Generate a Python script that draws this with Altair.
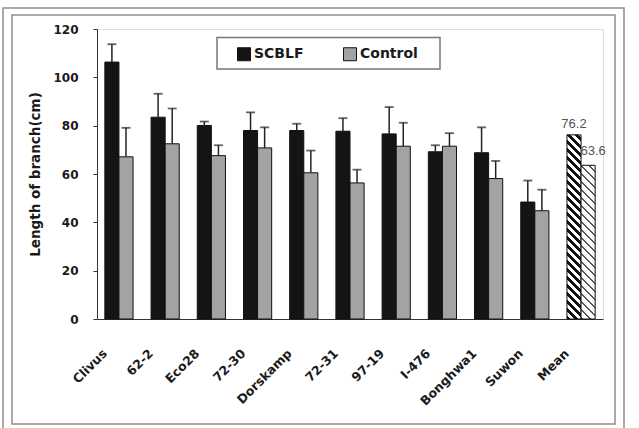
import altair as alt
import pandas as pd

# Branch length per clone (cm): treatment means and standard deviations
clones = ["Clivus", "62-2", "Eco28", "72-30", "Dorskamp", "72-31", "97-19", "I-476", "Bonghwa1", "Suwon"]
scblf = [106.3, 83.5, 80.1, 78.0, 78.0, 77.7, 76.6, 69.2, 68.8, 48.4]
scblf_sd = [7.4, 9.7, 1.6, 7.5, 2.8, 5.4, 11.1, 2.7, 10.5, 8.9]
control = [67.1, 72.5, 67.6, 70.8, 60.5, 56.3, 71.5, 71.5, 58.1, 44.8]
control_sd = [12.0, 14.6, 4.3, 8.5, 9.2, 5.5, 9.7, 5.4, 7.3, 8.7]
series = ["SCBLF", "Control"]
mean_name = "Mean"
mean_values = [76.2, 63.6]
mean_labels = ["76.2", "63.6"]
y_ticks = [0, 20, 40, 60, 80, 100, 120]

categories = clones + [mean_name]

PLOT_W, PLOT_H, Y_MAX = 506, 290, 120
PAD_INNER, PAD_OUTER = 0.39, 0.17
STEP = PLOT_W / (len(categories) - PAD_INNER + 2 * PAD_OUTER)
BAR_W = STEP * (1 - PAD_INNER) / 2

rows = []
for i, c in enumerate(clones):
    rows.append({"clone": c, "treatment": "SCBLF", "length": scblf[i], "sd": scblf_sd[i]})
    rows.append({"clone": c, "treatment": "Control", "length": control[i], "sd": control_sd[i]})
df = pd.DataFrame(rows)
df["top"] = df["length"] + df["sd"]

means = pd.DataFrame({"clone": [mean_name] * 2, "treatment": series,
                      "length": mean_values, "label": mean_labels})

BOLD = "DejaVu Sans"
Y_TITLE = "Length of branch(cm)"

x_scale = alt.Scale(domain=categories, paddingInner=PAD_INNER, paddingOuter=PAD_OUTER)
off_scale = alt.Scale(domain=series, paddingInner=0, paddingOuter=0)
y_scale = alt.Scale(domain=[0, Y_MAX], nice=False)

x_axis = alt.Axis(title=None, labelAngle=-45, labelAlign="right", labelBaseline="middle",
                  labelFont=BOLD, labelFontWeight="bold", labelFontSize=12.5, labelColor="#1a1a1a",
                  labelPadding=32, labelOffset=-14, ticks=False, domainColor="#333",
                  domainWidth=1, grid=False)
y_axis = alt.Axis(title=Y_TITLE, values=y_ticks, tickSize=4, tickColor="#333",
                  domainColor="#333", labelFont=BOLD, labelFontWeight="bold",
                  labelFontSize=12, labelColor="#1a1a1a", labelPadding=15, grid=False,
                  titleFont=BOLD, titleFontWeight="bold", titleFontSize=13.5,
                  titleColor="#1a1a1a", titlePadding=10)


def x_enc():
    return alt.X("clone:N", sort=categories, scale=x_scale, axis=x_axis)


def off_enc():
    return alt.XOffset("treatment:N", sort=series, scale=off_scale)


def y_enc(field):
    return alt.Y(f"{field}:Q", scale=y_scale, axis=y_axis, title=Y_TITLE)


def hatch_fill(value, ink, paper, duty, period):
    """Diagonal stripes built from a linear gradient over a bar's bounding box."""
    w = BAR_W
    h = value / Y_MAX * PLOT_H
    s = (w + h) / (w * w + h * h)
    n = (w + h) / period
    stops = []
    k = 0
    while k < n:
        a = k / n
        b = min((k + duty) / n, 1.0)
        c = min((k + 1) / n, 1.0)
        stops += [(a, ink), (b, ink), (b, paper), (c, paper)]
        k += 1
    return alt.LinearGradient(
        gradient="linear", x1=0, y1=1, x2=w * s, y2=1 - h * s,
        stops=[alt.GradientStop(offset=o, color=col) for o, col in stops],
    )


one_row = alt.Data(values=[{}])

# double frame around the figure
outer_frame = alt.Chart(one_row).mark_rect(fillOpacity=0, stroke="#8f8f8f", strokeWidth=1.5).encode(
    x=alt.value(-94), x2=alt.value(527), y=alt.value(-21), y2=alt.value(420))
inner_frame = alt.Chart(one_row).mark_rect(fillOpacity=0, stroke="#8f8f8f", strokeWidth=1.5).encode(
    x=alt.value(-85), x2=alt.value(518), y=alt.value(-14), y2=alt.value(395))
legend_box = alt.Chart(one_row).mark_rect(fillOpacity=0, stroke="#777", strokeWidth=1.5).encode(
    x=alt.value(120), x2=alt.value(343), y=alt.value(8.5), y2=alt.value(40))

bars = alt.Chart(df).mark_bar(stroke="#111", strokeWidth=1).encode(
    x=x_enc(), xOffset=off_enc(), y=y_enc("length"),
    color=alt.Color("treatment:N", sort=series,
                    scale=alt.Scale(domain=series, range=["#141414", "#a3a3a3"]),
                    legend=alt.Legend(title=None, orient="none", legendX=140, legendY=18,
                                      direction="horizontal", symbolType="square",
                                      symbolSize=169, symbolStrokeColor="#111",
                                      symbolStrokeWidth=1, symbolOpacity=1,
                                      labelFont=BOLD, labelFontWeight="bold",
                                      labelFontSize=14, labelColor="#1a1a1a",
                                      labelOffset=3, columnPadding=37, padding=0)),
)

mean_scblf = alt.Chart(means).transform_filter(alt.datum.treatment == "SCBLF").mark_bar(
    fill=hatch_fill(mean_values[0], "#111111", "#ffffff", 0.5, 8), stroke="#111", strokeWidth=1
).encode(x=x_enc(), xOffset=off_enc(), y=y_enc("length"))

mean_control = alt.Chart(means).transform_filter(alt.datum.treatment == "Control").mark_bar(
    fill=hatch_fill(mean_values[1], "#555555", "#ffffff", 0.35, 8), stroke="#111", strokeWidth=1
).encode(x=x_enc(), xOffset=off_enc(), y=y_enc("length"))

err_rules = alt.Chart(df).mark_rule(color="#222", strokeWidth=1.5).encode(
    x=x_enc(), xOffset=off_enc(), y=y_enc("length"), y2="top:Q")
err_caps = alt.Chart(df).mark_tick(color="#222", thickness=1.8, size=9).encode(
    x=x_enc(), xOffset=off_enc(), y=y_enc("top"))

label_font = "Liberation Sans"
lab_scblf = alt.Chart(means).transform_filter(alt.datum.treatment == "SCBLF").mark_text(
    font=label_font, fontSize=13, color="#555", baseline="bottom", dy=-4
).encode(x=x_enc(), xOffset=off_enc(), y=y_enc("length"), text="label:N")
lab_control = alt.Chart(means).transform_filter(alt.datum.treatment == "Control").mark_text(
    font=label_font, fontSize=13, color="#555", baseline="bottom", dy=-7, dx=5
).encode(x=x_enc(), xOffset=off_enc(), y=y_enc("length"), text="label:N")

chart = alt.layer(
    outer_frame, inner_frame, legend_box, bars, mean_scblf, mean_control,
    err_rules, err_caps, lab_scblf, lab_control,
).properties(
    width=PLOT_W, height=PLOT_H, autosize="none",
    padding={"left": 97, "top": 29, "right": 36, "bottom": 109},
).configure_view(stroke=None).configure(background="white")

chart.save("out.html", embed_options={"renderer": "svg", "actions": False})
